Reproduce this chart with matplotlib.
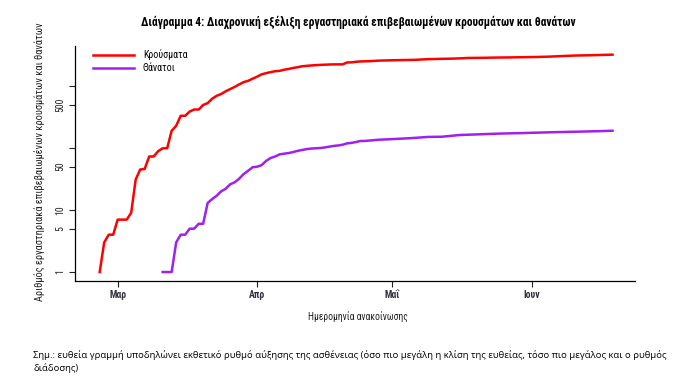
import matplotlib
matplotlib.use("Agg")
import matplotlib.pyplot as plt
import matplotlib.dates as mdates
from matplotlib import font_manager
import pandas as pd

# cumulative confirmed cases (announcement date)
case_dates = ["2020-02-26", "2020-02-27", "2020-02-28", "2020-02-29", "2020-03-01",
              "2020-03-02", "2020-03-03", "2020-03-04", "2020-03-05", "2020-03-06",
              "2020-03-07", "2020-03-08", "2020-03-09", "2020-03-10", "2020-03-11",
              "2020-03-12", "2020-03-13", "2020-03-14", "2020-03-15", "2020-03-16",
              "2020-03-17", "2020-03-18", "2020-03-19", "2020-03-20", "2020-03-21",
              "2020-03-22", "2020-03-23", "2020-03-24", "2020-03-25", "2020-03-26",
              "2020-03-27", "2020-03-28", "2020-03-29", "2020-03-30", "2020-03-31",
              "2020-04-01", "2020-04-02", "2020-04-03", "2020-04-04", "2020-04-05",
              "2020-04-06", "2020-04-07", "2020-04-08", "2020-04-09", "2020-04-10",
              "2020-04-11", "2020-04-12", "2020-04-13", "2020-04-14", "2020-04-15",
              "2020-04-16", "2020-04-17", "2020-04-18", "2020-04-19", "2020-04-20",
              "2020-04-21", "2020-04-22", "2020-04-23", "2020-04-24", "2020-04-26",
              "2020-04-28", "2020-04-30", "2020-05-03", "2020-05-06", "2020-05-09",
              "2020-05-12", "2020-05-15", "2020-05-18", "2020-05-21", "2020-05-24",
              "2020-05-27", "2020-05-30", "2020-06-02", "2020-06-05", "2020-06-08",
              "2020-06-11", "2020-06-14", "2020-06-17", "2020-06-19"]
cases = [1, 3, 4, 4, 7,
         7, 7, 9, 31, 45,
         46, 73, 73, 89, 99,
         99, 190, 228, 331, 331,
         387, 418, 418, 495, 530,
         624, 695, 743, 821, 892,
         966, 1061, 1156, 1212, 1314,
         1415, 1544, 1613, 1673, 1735,
         1755, 1832, 1884, 1955, 2011,
         2081, 2114, 2145, 2170, 2192,
         2207, 2224, 2235, 2235, 2235,
         2401, 2408, 2463, 2490, 2517,
         2566, 2591, 2620, 2642, 2710,
         2744, 2770, 2836, 2850, 2876,
         2892, 2915, 2937, 2980, 3049,
         3108, 3134, 3178, 3203]

# cumulative deaths
death_dates = ["2020-03-11", "2020-03-12", "2020-03-13", "2020-03-14", "2020-03-15",
               "2020-03-16", "2020-03-17", "2020-03-18", "2020-03-19", "2020-03-20",
               "2020-03-21", "2020-03-22", "2020-03-23", "2020-03-24", "2020-03-25",
               "2020-03-26", "2020-03-27", "2020-03-28", "2020-03-29", "2020-03-30",
               "2020-03-31", "2020-04-01", "2020-04-02", "2020-04-03", "2020-04-04",
               "2020-04-05", "2020-04-06", "2020-04-07", "2020-04-08", "2020-04-09",
               "2020-04-10", "2020-04-11", "2020-04-12", "2020-04-13", "2020-04-14",
               "2020-04-15", "2020-04-16", "2020-04-17", "2020-04-18", "2020-04-19",
               "2020-04-20", "2020-04-21", "2020-04-22", "2020-04-23", "2020-04-24",
               "2020-04-25", "2020-04-26", "2020-04-27", "2020-04-28", "2020-04-30",
               "2020-05-05", "2020-05-09", "2020-05-12", "2020-05-16", "2020-05-20",
               "2020-05-25", "2020-05-31", "2020-06-01", "2020-06-06", "2020-06-12",
               "2020-06-16", "2020-06-19"]
deaths = [1, 1, 1, 3, 4,
          4, 5, 5, 6, 6,
          13, 15, 17, 20, 22,
          26, 28, 32, 38, 43,
          49, 50, 53, 62, 69,
          73, 79, 81, 83, 86,
          90, 93, 96, 98, 99,
          100, 102, 105, 108, 110,
          113, 119, 121, 125, 130,
          130, 132, 134, 136, 138,
          144, 151, 152, 162, 166,
          171, 175, 176, 180, 184,
          187, 190]

y_ticks = [1, 5, 10, 50, 100, 500, 1000]
y_tick_labels = ["1", "5", "10", "50", "", "500", ""]
month_ticks = ["2020-03-01", "2020-04-01", "2020-05-01", "2020-06-01"]
month_labels = ["Μαρ", "Απρ", "Μαΐ", "Ιουν"]

available = {f.name for f in font_manager.fontManager.ttflist}
narrow = "DejaVu Sans"
for name in ["Liberation Sans Narrow", "Roboto Condensed", "Roboto", "Liberation Sans"]:
    if name in available:
        narrow = name
        break
note_font = "Open Sans" if "Open Sans" in available else "DejaVu Sans"
plt.rcParams["font.family"] = [narrow, "DejaVu Sans"]

W, H = 692, 389
fig = plt.figure(figsize=(W / 100, H / 100), dpi=100)
ax = fig.add_axes([74.5 / W, 1 - 280.5 / H, (635 - 74.5) / W, (280.5 - 46) / H])

ax.plot(pd.to_datetime(case_dates), cases, color="#FF0000", lw=1.8, label="Κρούσματα")
ax.plot(pd.to_datetime(death_dates), deaths, color="#A020F0", lw=1.8, label="Θάνατοι")

ax.set_yscale("log")
ax.set_ylim(0.73, 4420)
ax.set_yticks(y_ticks)
ax.set_yticklabels(y_tick_labels, rotation=90, va="center")
ax.minorticks_off()

mar1 = mdates.date2num(pd.Timestamp("2020-03-01"))
ax.set_xlim(mar1 - 9.6, mar1 + 115.0)
ax.set_xticks(pd.to_datetime(month_ticks))
ax.set_xticklabels(month_labels, fontweight="bold", color="#333340")

for s in ["top", "right"]:
    ax.spines[s].set_visible(False)
for s in ["left", "bottom"]:
    ax.spines[s].set_linewidth(0.9)
ax.tick_params(axis="both", length=4, width=0.8, labelsize=7, pad=3, colors="#222222")
ax.tick_params(axis="x", labelsize=7, labelcolor="#333340")

ax.legend(loc="upper left", bbox_to_anchor=(0.033, 0.985), frameon=False,
          fontsize=7.2, handlelength=4.1, handletextpad=0.9, labelspacing=0.3,
          borderpad=0, borderaxespad=0)

fig.text(358 / W, 1 - 22 / H,
         "Διάγραμμα 4: Διαχρονική εξέλιξη εργαστηριακά επιβεβαιωμένων κρουσμάτων και θανάτων",
         ha="center", va="center", fontsize=8.3, fontweight="bold")
fig.text(40 / W, 1 - 162 / H,
         "Αριθμός εργαστηριακά επιβεβαιωμένων κρουσμάτων και θανάτων",
         ha="center", va="center", rotation=90, fontsize=7.5, color="#222222")
fig.text(358 / W, 1 - 317 / H, "Ημερομηνία ανακοίνωσης",
         ha="center", va="center", fontsize=6.9, color="#222222")
fig.text(33 / W, 1 - 355 / H,
         "Σημ.: ευθεία γραμμή υποδηλώνει εκθετικό ρυθμό αύξησης της ασθένειας "
         "(όσο πιο μεγάλη η κλίση της ευθείας, τόσο πιο μεγάλος και ο ρυθμός",
         ha="left", va="center", fontsize=6.8, family=note_font)
fig.text(33 / W, 1 - 368 / H, "διάδοσης)",
         ha="left", va="center", fontsize=6.8, family=note_font)

fig.savefig("out.png", dpi=100)
